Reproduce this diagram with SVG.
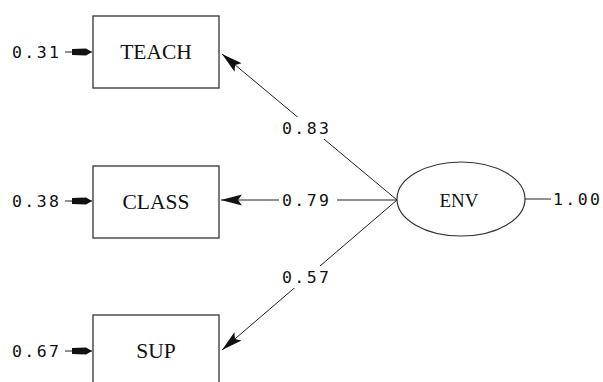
<svg xmlns="http://www.w3.org/2000/svg" width="603" height="382" viewBox="0 0 603 382">
<style>
.box{fill:#fff;stroke:#333;stroke-width:1.3}
.lbl{font-family:"Liberation Serif","Times New Roman",serif;font-size:21.5px;fill:#111;text-anchor:middle;dominant-baseline:central}
.num{font-family:"DejaVu Sans Mono","Liberation Mono",monospace;font-size:16.5px;letter-spacing:2.4px;fill:#111;dominant-baseline:central}
.ln{stroke:#222;stroke-width:1;fill:none}
.bg{fill:#fff}
</style>
<defs>
<marker id="ah" markerUnits="userSpaceOnUse" markerWidth="26" markerHeight="14" viewBox="-24 -7 26 14" refX="0" refY="0" orient="auto">
<path d="M0,0 L-21,-5.5 L-17,0 L-21,5.5 Z" fill="#111"/>
</marker>
<marker id="eh" markerUnits="userSpaceOnUse" markerWidth="24" markerHeight="12" viewBox="-22 -6 24 12" refX="0" refY="0" orient="auto">
<path d="M0,0 L-6,-3.5 L-20,-3 L-20,3 L-6,3.5 Z" fill="#111"/>
</marker>
</defs>
<g id="connectors">
<line class="ln" x1="397" y1="200" x2="222" y2="54" marker-end="url(#ah)"/>
<line class="ln" x1="397" y1="200" x2="221" y2="200" marker-end="url(#ah)"/>
<line class="ln" x1="397" y1="200" x2="222" y2="350" marker-end="url(#ah)"/>
<line class="ln" x1="525" y1="199" x2="551" y2="199"/>
<line class="ln" x1="65" y1="52" x2="92" y2="52" marker-end="url(#eh)"/>
<line class="ln" x1="65" y1="201" x2="92" y2="201" marker-end="url(#eh)"/>
<line class="ln" x1="65" y1="351" x2="92" y2="351" marker-end="url(#eh)"/>
<rect class="bg" x="279" y="117" width="58" height="22"/>
<text class="num" x="282" y="128">0.83</text>
<rect class="bg" x="279" y="189" width="58" height="22"/>
<text class="num" x="282" y="200">0.79</text>
<rect class="bg" x="279" y="266" width="58" height="22"/>
<text class="num" x="282" y="277">0.57</text>
<text class="num" x="553" y="199">1.00</text>
<text class="num" x="12" y="52">0.31</text>
<text class="num" x="12" y="201">0.38</text>
<text class="num" x="12" y="351">0.67</text>
</g>
<g id="TEACH">
<rect class="box" x="93" y="16" width="126" height="72"/>
<text class="lbl" x="156" y="52">TEACH</text>
</g>
<g id="CLASS">
<rect class="box" x="93" y="166" width="126" height="72"/>
<text class="lbl" x="156" y="202">CLASS</text>
</g>
<g id="SUP">
<rect class="box" x="93" y="315" width="126" height="72"/>
<text class="lbl" x="156" y="351">SUP</text>
</g>
<g id="ENV">
<ellipse cx="461" cy="199" rx="64" ry="37" fill="#fff" stroke="#333" stroke-width="1.2"/>
<text class="lbl" x="459" y="200" style="font-size:19px">ENV</text>
</g>
</svg>
